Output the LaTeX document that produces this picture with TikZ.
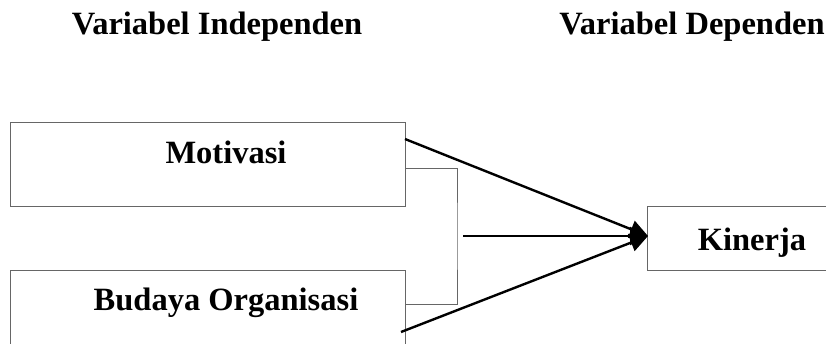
\documentclass[tikz,border=0pt]{standalone}
\usepackage{fontspec}
\setmainfont{Liberation Serif}
\usetikzlibrary{arrows.meta}
\begin{document}
\begin{tikzpicture}[x=1pt,y=-1pt,
  box/.style={draw=black!60,line width=1pt,rectangle,inner sep=0pt},
  lbl/.style={font=\fontsize{32.5}{37}\selectfont\bfseries,anchor=base,inner sep=0pt},
  link/.style={draw=black!60,line width=1pt},
  arr/.style={line width=2.4pt,-{Triangle[length=18pt,width=18pt]}}]
\useasboundingbox (0,0) rectangle (826,343);
\clip (0,0) rectangle (826,343);
% boxes
\node[box,minimum width=395pt,minimum height=84pt] (mot) at (207.5,164) {};
\node[box,minimum width=395pt,minimum height=84pt] (bud) at (207.5,312) {};
\node[box,minimum width=260pt,minimum height=64pt] (kin) at (777,238) {};
% texts
\node[lbl] (hind) at (217,34) {Variabel Independen};
\node[lbl] (hdep) at (692,34) {Variabel Dependen};
\node[lbl] (tmot) at (226,163) {Motivasi};
\node[lbl] (tbud) at (226,310) {Budaya Organisasi};
\node[lbl] (tkin) at (752,250) {Kinerja};
% connector points
\coordinate (m1) at (405,139);
\coordinate (m2) at (405,168);
\coordinate (b1) at (405,304);
\coordinate (b2) at (401,332);
\coordinate (bk) at (457,236);
\coordinate (hs) at (463,236);
\coordinate (tip) at (648,236);
% bracket
\draw[link] (m2) -| (bk) |- (b1);
% arrows
\draw[arr] (m1) -- (tip);
\draw[arr] (b2) -- (tip);
\draw[arr] (hs) -- (tip);
\end{tikzpicture}
\end{document}
